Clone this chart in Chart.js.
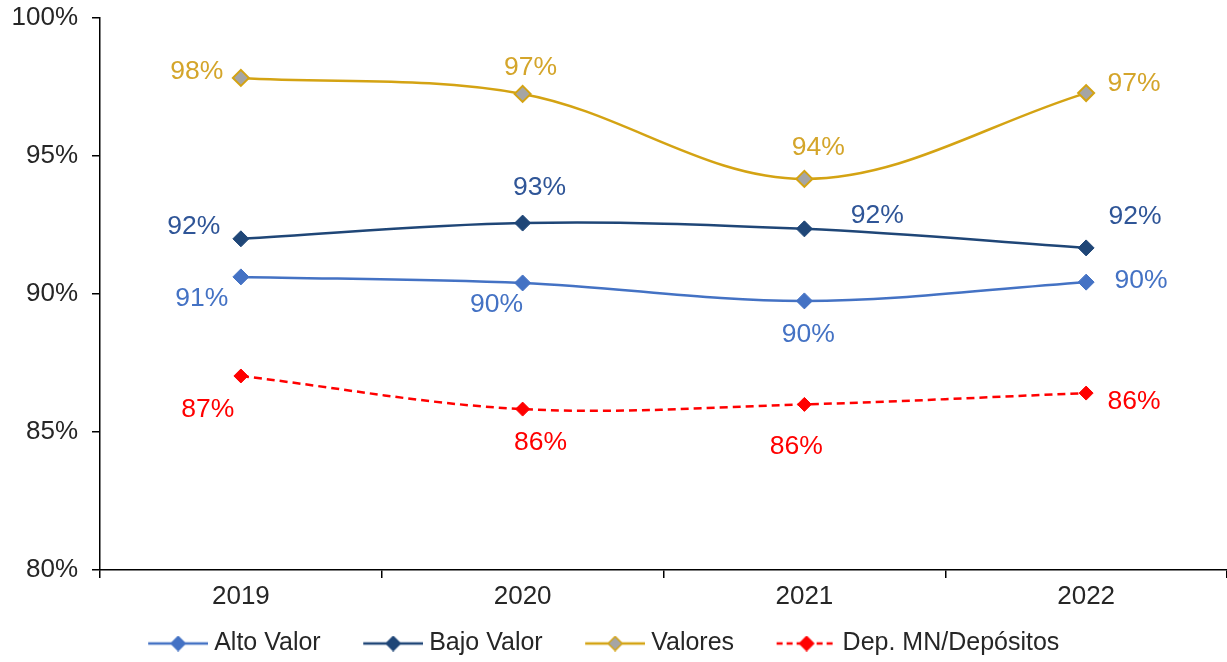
<!DOCTYPE html>
<html>
<head>
<meta charset="utf-8">
<script src="https://cdn.jsdelivr.net/npm/chart.js@4.4.0/dist/chart.umd.min.js"></script>
<style>
  html, body { margin: 0; padding: 0; background: #fff; }
  #wrap { width: 1227px; height: 662px; }
</style>
</head>
<body>
<div id="wrap"><canvas id="grafico" width="1227" height="662"></canvas></div>
<script>
// datos del gráfico
const anios = ['2019', '2020', '2021', '2022'];
const altoValor = [90.62, 90.40, 89.75, 90.43];
const bajoValor = [92.00, 92.57, 92.36, 91.67];
const valores = [97.83, 97.25, 94.17, 97.28];
const depMN = [87.03, 85.83, 86.00, 86.41];
const ticksY = [80, 85, 90, 95, 100];

// posición de cada etiqueta respecto al punto (dx, dy)
const posEtiquetas = [
  [[-39, 22], [-26, 22], [4, 34], [55, -1]],
  [[-47, -12], [17, -35], [73, -13], [49, -31]],
  [[-44, -6], [8, -26], [14, -31], [48, -9]],
  [[-33, 34], [18, 34], [-8, 42], [48, 9]]
];

const fuente = "'Liberation Sans', Arial, sans-serif";

// icono de leyenda: línea con rombo, dejando hueco a la izquierda
function iconoLeyenda(color, relleno, borde, dash) {
  const c = document.createElement('canvas');
  c.width = 97; c.height = 16;
  const ctx = c.getContext('2d');
  const x0 = 37, x1 = 97, xm = 67;
  ctx.strokeStyle = color;
  ctx.lineWidth = 2.5;
  if (dash) ctx.setLineDash(dash);
  ctx.beginPath();
  ctx.moveTo(x0, 8); ctx.lineTo(x1, 8);
  ctx.stroke();
  ctx.setLineDash([]);
  ctx.beginPath();
  ctx.moveTo(xm, 1); ctx.lineTo(xm + 7, 8); ctx.lineTo(xm, 15); ctx.lineTo(xm - 7, 8);
  ctx.closePath();
  ctx.fillStyle = relleno;
  ctx.fill();
  ctx.strokeStyle = borde;
  ctx.lineWidth = 1.5;
  ctx.stroke();
  return c;
}

const etiquetasPlugin = {
  id: 'etiquetas',
  afterLayout(chart) {
    // la leyenda del original está algo desplazada
    chart.legend.left -= 25;
    chart.legend.right -= 25;
    chart.legend.top += 4;
    chart.legend.bottom += 4;
  },
  afterDatasetsDraw(chart) {
    const ctx = chart.ctx;
    ctx.save();
    ctx.font = '26.5px ' + fuente;
    ctx.textAlign = 'center';
    ctx.textBaseline = 'middle';
    chart.data.datasets.forEach((ds, i) => {
      const meta = chart.getDatasetMeta(i);
      meta.data.forEach((pt, j) => {
        const off = posEtiquetas[i][j];
        ctx.fillStyle = ds.labelColor;
        ctx.fillText(Math.round(ds.data[j]) + '%', pt.x + off[0], pt.y + off[1]);
      });
    });
    ctx.restore();
  }
};

const serie = (label, data, color, relleno, extra) => Object.assign({
  label,
  data,
  borderColor: color,
  backgroundColor: relleno,
  labelColor: color,
  borderWidth: 2.5,
  tension: 0.35,
  pointStyle: 'rectRot',
  pointRadius: 8,
  pointHoverRadius: 8,
  pointBackgroundColor: relleno,
  pointBorderColor: color,
  pointBorderWidth: 1
}, extra || {});

const datasets = [
  serie('Alto Valor', altoValor, '#4472C4', '#4472C4'),
  serie('Bajo Valor', bajoValor, '#1F4677', '#1F4677', { labelColor: '#2F5597' }),
  serie('Valores', valores, '#D4A313', '#A5A5A5', { pointBorderWidth: 2, labelColor: '#D4A52A' }),
  serie('Dep. MN/Depósitos', depMN, '#FF0000', '#FF0000', { borderDash: [8, 5], pointRadius: 7 })
];

const iconos = [
  iconoLeyenda('#4472C4', '#4472C4', '#4472C4'),
  iconoLeyenda('#1F4677', '#1F4677', '#1F4677'),
  iconoLeyenda('#D4A313', '#A5A5A5', '#D4A313'),
  iconoLeyenda('#FF0000', '#FF0000', '#FF0000', [6, 4])
];

new Chart(document.getElementById('grafico'), {
  type: 'line',
  data: { labels: anios, datasets },
  options: {
    responsive: false,
    animation: false,
    layout: { autoPadding: false, padding: { top: 18, right: 0, left: 0, bottom: 0 } },
    plugins: {
      tooltip: { enabled: false },
      legend: {
        position: 'bottom',
        labels: {
          color: '#262626',
          font: { family: fuente, size: 25 },
          usePointStyle: true,
          pointStyleWidth: 84,
          padding: 12,
          generateLabels: chart => chart.data.datasets.map((ds, i) => ({
            text: ds.label,
            pointStyle: iconos[i],
            fontColor: '#262626',
            strokeStyle: ds.borderColor,
            fillStyle: ds.backgroundColor,
            lineWidth: 0,
            datasetIndex: i
          }))
        }
      }
    },
    scales: {
      x: {
        offset: true,
        border: { display: true, color: '#000', width: 1.5 },
        grid: { offset: true, drawOnChartArea: false, drawTicks: true, tickLength: 8, color: '#000', lineWidth: 1.5 },
        ticks: { color: '#262626', font: { family: fuente, size: 26 }, padding: 3 },
        afterFit: s => { s.height = 45; s.paddingLeft = 0; s.paddingRight = 0; }
      },
      y: {
        min: 80,
        max: 100,
        afterBuildTicks: s => { s.ticks = ticksY.map(v => ({ value: v })); },
        border: { display: true, color: '#000', width: 1.5 },
        grid: { drawOnChartArea: false, drawTicks: true, tickLength: 8, color: '#000', lineWidth: 1.5 },
        ticks: { color: '#262626', font: { family: fuente, size: 26 }, padding: 14, callback: v => v + '%' },
        afterFit: s => { s.width = 100; s.paddingTop = 0; s.paddingBottom = 0; }
      }
    }
  },
  plugins: [etiquetasPlugin]
});
</script>
</body>
</html>
